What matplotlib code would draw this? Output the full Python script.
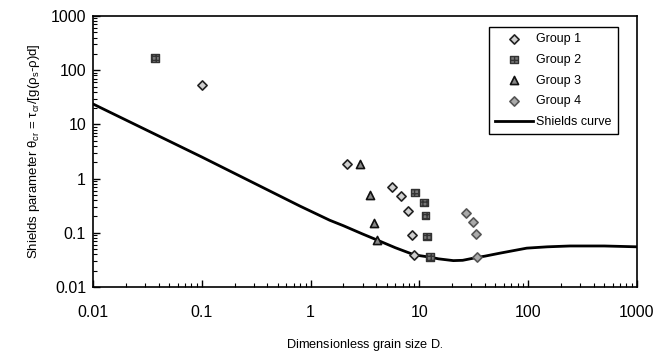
import matplotlib
matplotlib.use("Agg")
import matplotlib.pyplot as plt
from matplotlib.ticker import LogLocator, FixedLocator, FixedFormatter, NullFormatter

plt.rcParams['font.family'] = ['Liberation Sans', 'DejaVu Sans']
plt.rcParams['mathtext.fontset'] = 'custom'
plt.rcParams['mathtext.rm'] = 'Liberation Sans'
plt.rcParams['mathtext.it'] = 'Liberation Sans'

# Experimental data (D*, theta_cr)
g1_d = [0.1, 2.15, 5.56, 6.78, 7.9, 8.5, 8.97]
g1_t = [53, 1.86, 0.69, 0.48, 0.256, 0.091, 0.039]
g2_d = [0.037, 9.1, 11.0, 11.4, 11.8, 12.5]
g2_t = [168, 0.55, 0.36, 0.207, 0.085, 0.036]
g3_d = [2.85, 3.54, 3.83, 4.05]
g3_t = [1.86, 0.50, 0.154, 0.0736]
g4_d = [26.8, 30.9, 32.9, 33.8]
g4_t = [0.235, 0.158, 0.094, 0.035]

# Shields curve
sh_d = [0.01, 0.1, 0.8, 1.5, 2, 3, 4.05, 6, 9, 12.5, 15, 20.5, 25, 33.8, 40, 55, 70, 97, 150, 242, 500, 1000]
sh_t = [23.8, 2.5, 0.31, 0.17, 0.135, 0.095, 0.074, 0.053, 0.039, 0.0355, 0.033, 0.0306, 0.031, 0.035,
        0.037, 0.042, 0.046, 0.052, 0.055, 0.057, 0.057, 0.055]

tick_vals = [0.01, 0.1, 1, 10, 100, 1000]
tick_labels = ['0.01', '0.1', '1', '10', '100', '1000']

fig = plt.figure(figsize=(6.55, 3.56), dpi=100)
ax = fig.add_axes([0.142, 0.194, 0.8305, 0.761])

ax.plot(sh_d, sh_t, color='black', lw=2.0, label='Shields curve', zorder=2)
ax.scatter(g1_d, g1_t, marker='D', s=22, facecolor='#d0d0d0', edgecolor='#222222', linewidth=1.2,
           label='Group 1', zorder=3)
ax.scatter(g2_d, g2_t, marker='s', s=30, facecolor='#777777', edgecolor='#333333', linewidth=1.0,
           hatch='++++', label='Group 2', zorder=3)
ax.scatter(g3_d, g3_t, marker='^', s=34, facecolor='#888888', edgecolor='#111111', linewidth=1.2,
           label='Group 3', zorder=3)
ax.scatter(g4_d, g4_t, marker='D', s=22, facecolor='#aaaaaa', edgecolor='#555555', linewidth=1.2,
           label='Group 4', zorder=3)

ax.set_xscale('log')
ax.set_yscale('log')
ax.set_xlim(0.01, 1000)
ax.set_ylim(0.01, 1000)

for axis in (ax.xaxis, ax.yaxis):
    axis.set_major_locator(FixedLocator(tick_vals))
    axis.set_major_formatter(FixedFormatter(tick_labels))
    axis.set_minor_locator(LogLocator(base=10, subs=range(2, 10), numticks=20))
    axis.set_minor_formatter(NullFormatter())

ax.tick_params(which='both', direction='in', top=False, right=False, labelsize=11.5)
ax.tick_params(which='major', length=5, width=1)
ax.tick_params(which='minor', length=3, width=0.8)
ax.tick_params(axis='x', pad=13)
ax.tick_params(axis='y', pad=5)
for sp in ax.spines.values():
    sp.set_linewidth(1.2)

ax.set_xlabel(r'Dimensionless grain size D$_{\bullet}$', fontsize=9.2, labelpad=12)
ax.set_ylabel(r'Shields parameter $\mathregular{\theta_{cr}}$ = $\mathregular{\tau_{cr}}$/[g($\mathregular{\rho_s}$-$\mathregular{\rho}$)d]',
              fontsize=9.5, labelpad=6)

handles, labels = ax.get_legend_handles_labels()
order = [labels.index(n) for n in ['Group 1', 'Group 2', 'Group 3', 'Group 4', 'Shields curve']]
leg = ax.legend([handles[i] for i in order], [labels[i] for i in order],
                loc='upper right', bbox_to_anchor=(0.965, 0.96), fontsize=9, fancybox=False,
                framealpha=1, edgecolor='black', handlelength=3.0, handletextpad=0.3,
                borderpad=0.5, labelspacing=0.7, borderaxespad=0.0)
leg.get_frame().set_linewidth(1.0)

fig.savefig('out.png', dpi=100)
